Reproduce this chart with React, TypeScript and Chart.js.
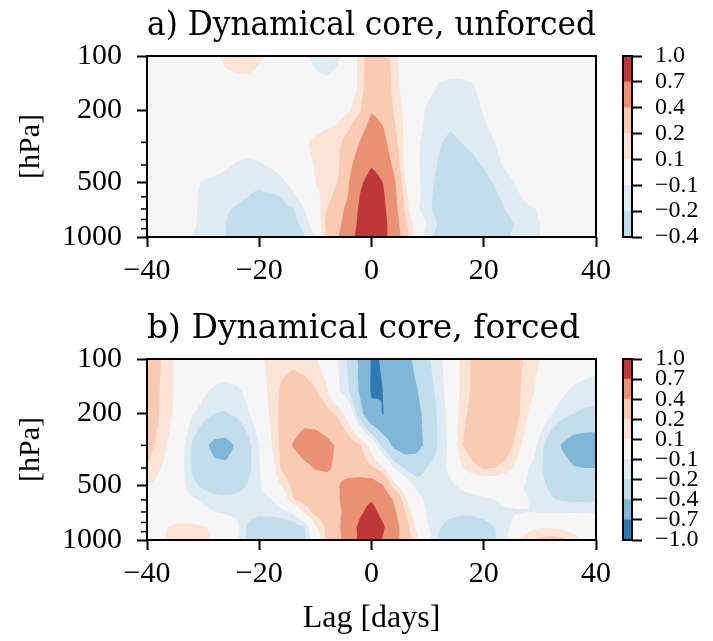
import React, { useEffect, useRef } from 'react';
import { Chart, registerables } from 'chart.js';

Chart.register(...registerables);

// ---------------- data ----------------
const LAGS = [-40, -38, -36, -34, -32, -30, -28, -26, -24, -22, -20, -18, -16, -14, -12, -10, -8, -6, -4, -2, 0,
  2, 4, 6, 8, 10, 12, 14, 16, 18, 20, 22, 24, 26, 28, 30, 32, 34, 36, 38, 40];
const PRESSURES = [100, 150, 200, 300, 400, 500, 600, 700, 850, 1000];

// panel a: rows = PRESSURES, columns = LAGS
const UNFORCED = [
  [0, 0, 0, 0, 0, 0.02, 0.07, 0.13, 0.15, 0.15, 0.12, 0.07, 0.02, 0, -0.08, -0.13, -0.15, -0.12, 0, 0.14, 0.3, 0.3, 0.14, 0.03, 0, -0.02, -0.04, -0.05, -0.05, -0.04, -0.02, 0, 0, 0, 0, 0, 0, 0, 0, 0, 0],
  [0, 0, 0, 0, 0, 0.01, 0.03, 0.05, 0.06, 0.06, 0.05, 0.03, 0.01, 0, -0.03, -0.06, -0.07, -0.05, 0, 0.14, 0.33, 0.32, 0.16, 0.04, -0.03, -0.07, -0.11, -0.12, -0.12, -0.11, -0.07, -0.03, -0.01, 0, 0, 0, 0, 0, 0, 0, 0],
  [0, 0, 0, 0, 0, 0, 0, 0, 0, 0, 0, 0, 0, 0, 0, 0, 0.03, 0.05, 0.09, 0.19, 0.38, 0.33, 0.19, 0.07, -0.04, -0.12, -0.15, -0.16, -0.16, -0.14, -0.09, -0.04, -0.01, 0, 0, 0, 0, 0, 0, 0, 0],
  [0, 0, 0, 0, 0, -0.01, -0.02, -0.03, -0.05, -0.06, -0.05, -0.03, -0.01, 0, 0.08, 0.13, 0.15, 0.17, 0.27, 0.41, 0.6, 0.48, 0.26, 0.07, -0.08, -0.14, -0.19, -0.22, -0.2, -0.17, -0.14, -0.1, -0.05, 0, 0, 0, 0, 0, 0, 0, 0],
  [0, 0, 0, 0, -0.01, -0.03, -0.05, -0.08, -0.11, -0.12, -0.11, -0.09, -0.06, -0.02, 0.06, 0.11, 0.14, 0.18, 0.35, 0.52, 0.67, 0.58, 0.35, 0.06, -0.08, -0.15, -0.21, -0.25, -0.25, -0.23, -0.19, -0.13, -0.08, -0.03, 0, 0, 0, 0, 0, 0, 0],
  [0, 0, 0, -0.02, -0.07, -0.11, -0.13, -0.15, -0.17, -0.18, -0.18, -0.15, -0.12, -0.06, 0.02, 0.1, 0.15, 0.2, 0.4, 0.65, 0.85, 0.7, 0.45, 0.1, -0.07, -0.16, -0.23, -0.27, -0.28, -0.27, -0.24, -0.19, -0.14, -0.08, -0.03, 0, 0, 0, 0, 0, 0],
  [0, 0, 0, -0.02, -0.08, -0.12, -0.14, -0.16, -0.18, -0.2, -0.22, -0.22, -0.2, -0.13, -0.04, 0.06, 0.15, 0.25, 0.42, 0.72, 0.9, 0.75, 0.48, 0.15, -0.06, -0.17, -0.24, -0.28, -0.3, -0.29, -0.26, -0.22, -0.17, -0.12, -0.06, -0.02, 0, 0, 0, 0, 0],
  [0, 0, 0, -0.02, -0.08, -0.12, -0.16, -0.19, -0.21, -0.24, -0.25, -0.25, -0.23, -0.21, -0.1, 0.02, 0.2, 0.3, 0.48, 0.76, 0.93, 0.78, 0.5, 0.18, -0.08, -0.18, -0.24, -0.27, -0.29, -0.3, -0.29, -0.25, -0.19, -0.15, -0.12, -0.09, -0.02, 0, 0, 0, 0],
  [0, 0, 0, -0.03, -0.08, -0.13, -0.17, -0.2, -0.24, -0.27, -0.28, -0.28, -0.26, -0.24, -0.17, -0.02, 0.24, 0.34, 0.54, 0.78, 0.95, 0.8, 0.55, 0.23, 0.05, -0.13, -0.21, -0.26, -0.28, -0.29, -0.29, -0.27, -0.24, -0.18, -0.13, -0.1, -0.04, 0, 0, 0, 0],
  [0, 0, -0.02, -0.06, -0.1, -0.14, -0.17, -0.2, -0.24, -0.28, -0.3, -0.3, -0.28, -0.25, -0.21, -0.1, 0.23, 0.38, 0.61, 0.8, 0.95, 0.79, 0.57, 0.29, 0.03, -0.17, -0.24, -0.27, -0.29, -0.3, -0.29, -0.27, -0.22, -0.16, -0.12, -0.1, -0.04, -0.01, 0, 0, 0],
];

// panel b: rows = PRESSURES, columns = LAGS
const FORCED = [
  [0.27, 0.22, 0.13, 0.05, 0, 0, 0, 0, 0, 0.02, 0.08, 0.13, 0.16, 0.17, 0.15, 0.11, 0.02, -0.1, -0.23, -0.45, -0.72, -0.69, -0.58, -0.5, -0.33, -0.22, -0.12, -0.05, 0.13, 0.22, 0.25, 0.27, 0.27, 0.23, 0.17, 0.1, 0.02, 0, 0, -0.03, -0.05],
  [0.26, 0.21, 0.13, 0.05, 0, -0.08, -0.12, -0.14, -0.12, -0.07, 0.03, 0.13, 0.22, 0.26, 0.25, 0.21, 0.12, -0.08, -0.2, -0.44, -0.73, -0.7, -0.6, -0.52, -0.42, -0.27, -0.15, -0.04, 0.13, 0.22, 0.27, 0.28, 0.27, 0.22, 0.15, 0.05, -0.03, -0.08, -0.12, -0.14, -0.15],
  [0.26, 0.21, 0.12, 0.04, -0.09, -0.14, -0.2, -0.21, -0.17, -0.11, -0.02, 0.12, 0.24, 0.3, 0.33, 0.3, 0.24, 0.18, 0.02, -0.32, -0.64, -0.705, -0.64, -0.56, -0.46, -0.33, -0.17, -0.06, 0.16, 0.24, 0.3, 0.32, 0.29, 0.23, 0.09, 0, -0.09, -0.15, -0.2, -0.22, -0.23],
  [0.24, 0.18, 0.08, -0.04, -0.21, -0.35, -0.45, -0.46, -0.38, -0.24, -0.1, 0.08, 0.24, 0.41, 0.48, 0.5, 0.46, 0.37, 0.28, 0.22, 0.05, -0.24, -0.45, -0.52, -0.47, -0.35, -0.18, -0.07, 0.19, 0.27, 0.32, 0.32, 0.28, 0.15, 0.02, -0.15, -0.3, -0.42, -0.5, -0.52, -0.52],
  [0.2, 0.12, 0.04, -0.05, -0.21, -0.3, -0.36, -0.37, -0.33, -0.24, -0.11, 0.02, 0.22, 0.3, 0.36, 0.41, 0.42, 0.37, 0.32, 0.27, 0.22, 0.13, -0.1, -0.22, -0.28, -0.19, -0.13, -0.08, 0.08, 0.17, 0.21, 0.2, 0.15, 0.06, -0.1, -0.18, -0.27, -0.33, -0.39, -0.4, -0.4],
  [0.11, 0.06, 0.02, -0.05, -0.17, -0.23, -0.27, -0.28, -0.25, -0.19, -0.12, -0.02, 0.11, 0.23, 0.28, 0.3, 0.34, 0.39, 0.46, 0.52, 0.53, 0.41, 0.15, 0, -0.13, -0.15, -0.14, -0.12, -0.08, -0.04, -0.02, -0.02, -0.04, -0.08, -0.12, -0.17, -0.22, -0.26, -0.28, -0.28, -0.27],
  [0.03, 0.02, 0, -0.03, -0.08, -0.12, -0.15, -0.16, -0.16, -0.15, -0.14, -0.11, -0.02, 0.19, 0.24, 0.27, 0.31, 0.38, 0.5, 0.63, 0.68, 0.58, 0.38, 0.13, -0.05, -0.13, -0.15, -0.16, -0.15, -0.14, -0.12, -0.1, -0.07, -0.07, -0.1, -0.15, -0.19, -0.21, -0.22, -0.22, -0.21],
  [0, 0, 0, -0.01, -0.03, -0.07, -0.1, -0.12, -0.14, -0.16, -0.17, -0.16, -0.13, -0.08, 0.13, 0.24, 0.3, 0.36, 0.48, 0.66, 0.79, 0.62, 0.45, 0.2, 0.02, -0.12, -0.15, -0.17, -0.18, -0.18, -0.16, -0.14, -0.12, -0.11, -0.1, -0.11, -0.11, -0.11, -0.11, -0.11, -0.11],
  [0, 0.04, 0.11, 0.14, 0.14, 0.12, 0.06, 0, -0.06, -0.22, -0.28, -0.3, -0.3, -0.27, -0.22, 0.08, 0.23, 0.36, 0.55, 0.77, 0.9, 0.74, 0.52, 0.27, 0.08, -0.09, -0.19, -0.24, -0.26, -0.26, -0.24, -0.2, -0.13, -0.04, 0.06, 0.09, 0.09, 0.07, 0.03, 0, -0.02],
  [0, 0.06, 0.13, 0.16, 0.17, 0.15, 0.07, 0, -0.07, -0.24, -0.3, -0.36, -0.41, -0.32, -0.24, -0.02, 0.22, 0.33, 0.55, 0.76, 0.8, 0.68, 0.5, 0.3, 0.14, -0.05, -0.21, -0.26, -0.28, -0.27, -0.24, -0.21, -0.12, 0.11, 0.18, 0.23, 0.25, 0.23, 0.17, 0.06, 0],
];

const LEVELS_A = [-0.4, -0.2, -0.1, 0.1, 0.2, 0.4, 0.7, 1.0];
const LEVELS_B = [-1.0, -0.7, -0.4, -0.2, -0.1, 0.1, 0.2, 0.4, 0.7, 1.0];
const BAND_COLORS = ['#2f79b5', '#80b6d6', '#c2ddec', '#deebf3', '#f6f6f6', '#fbe3d6', '#f9cbb3', '#ea9173', '#c0373a'];
const X_TICKS = [-40, -20, 0, 20, 40];
const Y_MAJOR = [100, 200, 500, 1000];
const Y_MINOR = [300, 400, 600, 700, 800, 900];

// ---------------- helpers ----------------
const LOG_P = PRESSURES.map((p) => Math.log10(p));
const SERIF = 'Liberation Serif';
const TITLE_FONT = 'DejaVu Serif';

const minus = (s: string) => s.replace('-', '\u2212');
const fmtTick = (v: number) => minus(String(v));
const fmtLevel = (v: number) => minus(v.toFixed(1));

function locate(arr: number[], v: number): [number, number] {
  const n = arr.length;
  if (v <= arr[0]) return [0, 0];
  if (v >= arr[n - 1]) return [n - 2, 1];
  let i = 0;
  while (v > arr[i + 1]) i++;
  return [i, (v - arr[i]) / (arr[i + 1] - arr[i])];
}

function sampleField(field: number[][], lag: number, p: number) {
  const [i, tx] = locate(LAGS, lag);
  const [j, ty] = locate(LOG_P, Math.log10(p));
  const a = field[j][i], b = field[j][i + 1], c = field[j + 1][i], d = field[j + 1][i + 1];
  return (a * (1 - tx) + b * tx) * (1 - ty) + (c * (1 - tx) + d * tx) * ty;
}

function hexToRgb(h: string) {
  const n = parseInt(h.slice(1), 16);
  return [(n >> 16) & 255, (n >> 8) & 255, n & 255];
}

function contourPlugin(field: number[][], levels: number[], colors: string[]) {
  const rgb = colors.map(hexToRgb);
  const band = (v: number) => {
    let k = 0;
    while (k < colors.length - 1 && v >= levels[k + 1]) k++;
    return k;
  };
  return {
    id: 'contourFill',
    beforeDatasetsDraw(chart: any) {
      const { ctx, chartArea } = chart;
      const { left, top, right, bottom } = chartArea;
      const xs = chart.scales.x;
      const ys = chart.scales.y;
      const w = Math.round(right - left);
      const h = Math.round(bottom - top);
      const S = 3;
      const lagSub: number[] = [];
      for (let k = 0; k < w * S; k++) lagSub.push(xs.getValueForPixel(left + (k + 0.5) / S));
      const pSub: number[] = [];
      for (let k = 0; k < h * S; k++) pSub.push(ys.getValueForPixel(top + (k + 0.5) / S));
      const off = document.createElement('canvas');
      off.width = w;
      off.height = h;
      const octx = off.getContext('2d')!;
      const img = octx.createImageData(w, h);
      for (let py = 0; py < h; py++) {
        for (let px = 0; px < w; px++) {
          let r = 0, g = 0, b = 0;
          for (let sy = 0; sy < S; sy++) {
            const p = pSub[py * S + sy];
            for (let sx = 0; sx < S; sx++) {
              const col = rgb[band(sampleField(field, lagSub[px * S + sx], p))];
              r += col[0]; g += col[1]; b += col[2];
            }
          }
          const o = (py * w + px) * 4;
          img.data[o] = r / (S * S);
          img.data[o + 1] = g / (S * S);
          img.data[o + 2] = b / (S * S);
          img.data[o + 3] = 255;
        }
      }
      octx.putImageData(img, 0, 0);
      ctx.drawImage(off, left, top);
    },
  };
}

const framePlugin = {
  id: 'axesFrame',
  afterDatasetsDraw(chart: any) {
    const { ctx, chartArea } = chart;
    const { left, top, right, bottom } = chartArea;
    ctx.save();
    ctx.strokeStyle = '#000';
    ctx.lineWidth = 2;
    ctx.strokeRect(left, top, right - left, bottom - top);
    ctx.restore();
  },
};

const minorTickPlugin = {
  id: 'minorTicks',
  afterDatasetsDraw(chart: any) {
    const { ctx, chartArea } = chart;
    const ys = chart.scales.y;
    ctx.save();
    ctx.strokeStyle = '#000';
    ctx.lineWidth = 1.5;
    for (const v of Y_MINOR) {
      const y = ys.getPixelForValue(v);
      ctx.beginPath();
      ctx.moveTo(chartArea.left - 6, y);
      ctx.lineTo(chartArea.left, y);
      ctx.stroke();
    }
    ctx.restore();
  },
};

interface PanelOpts {
  title: string;
  field: number[][];
  levels: number[];
  colors: string[];
  titleCenter: number;
  areaTop: number;
  xAxisHeight: number;
  xTitle: boolean;
}

function panelConfig(o: PanelOpts): any {
  const TS = 33;
  const LH = TS * 1.2;
  return {
    type: 'scatter',
    data: { datasets: [{ data: [], pointRadius: 0 }] },
    options: {
      animation: false,
      responsive: false,
      devicePixelRatio: 1,
      events: [],
      layout: { padding: { left: 0, right: 44, top: 0, bottom: 0 } },
      plugins: {
        legend: { display: false },
        tooltip: { enabled: false },
        title: {
          display: true,
          text: o.title,
          align: 'start',
          fullSize: false,
          color: '#000',
          font: { family: TITLE_FONT, size: TS, weight: 'normal', lineHeight: 1.2 },
          padding: { top: o.titleCenter - LH / 2, bottom: o.areaTop - o.titleCenter - LH / 2 },
        },
      },
      scales: {
        x: {
          type: 'linear',
          position: 'bottom',
          min: -40,
          max: 40,
          afterBuildTicks: (s: any) => { s.ticks = X_TICKS.map((v) => ({ value: v })); },
          afterFit: (s: any) => { s.height = o.xAxisHeight; },
          ticks: {
            autoSkip: false,
            maxRotation: 0,
            padding: 6,
            color: '#000',
            font: { family: SERIF, size: 30 },
            callback: (v: any) => fmtTick(Number(v)),
          },
          grid: { drawOnChartArea: false, drawTicks: true, tickLength: 10, tickWidth: 2, tickColor: '#000' },
          border: { display: false },
          title: {
            display: o.xTitle,
            text: 'Lag [days]',
            color: '#000',
            font: { family: SERIF, size: 32 },
            padding: { top: 0, bottom: 3 },
          },
        },
        y: {
          type: 'logarithmic',
          position: 'left',
          min: 100,
          max: 1000,
          reverse: true,
          afterBuildTicks: (s: any) => { s.ticks = Y_MAJOR.map((v) => ({ value: v })); },
          afterFit: (s: any) => { s.width = 147; },
          ticks: {
            autoSkip: false,
            padding: 15,
            color: '#000',
            font: { family: SERIF, size: 30 },
            callback: (v: any) => String(v),
          },
          grid: { drawOnChartArea: false, drawTicks: true, tickLength: 10, tickWidth: 2, tickColor: '#000' },
          border: { display: false },
          title: {
            display: true,
            text: '[hPa]',
            color: '#000',
            font: { family: SERIF, size: 30 },
            padding: { top: 13, bottom: 0 },
          },
        },
      },
    },
    plugins: [contourPlugin(o.field, o.levels, o.colors), framePlugin, minorTickPlugin],
  };
}

function colorbarConfig(levels: number[], colors: string[], top: number, bottom: number): any {
  return {
    type: 'bar',
    data: {
      labels: [''],
      datasets: colors.map((c) => ({
        data: [1],
        backgroundColor: c,
        borderWidth: 0,
        barPercentage: 1,
        categoryPercentage: 1,
      })),
    },
    options: {
      animation: false,
      responsive: false,
      devicePixelRatio: 1,
      events: [],
      layout: { padding: { left: 23, right: 0, top, bottom } },
      plugins: { legend: { display: false }, tooltip: { enabled: false }, title: { display: false } },
      scales: {
        x: { display: false, stacked: true },
        y: {
          stacked: true,
          position: 'right',
          min: 0,
          max: colors.length,
          afterBuildTicks: (s: any) => { s.ticks = levels.map((_, i) => ({ value: i })); },
          afterFit: (s: any) => { s.width = 81; },
          ticks: {
            autoSkip: false,
            padding: 13,
            color: '#000',
            font: { family: SERIF, size: 24 },
            callback: (_v: any, i: number) => fmtLevel(levels[i]),
          },
          grid: { drawOnChartArea: false, drawTicks: true, tickLength: 10, tickWidth: 2, tickColor: '#000' },
          border: { display: false },
        },
      },
    },
    plugins: [framePlugin],
  };
}

export default function App() {
  const aRef = useRef<HTMLCanvasElement>(null);
  const cbaRef = useRef<HTMLCanvasElement>(null);
  const bRef = useRef<HTMLCanvasElement>(null);
  const cbbRef = useRef<HTMLCanvasElement>(null);

  useEffect(() => {
    const charts = [
      new Chart(aRef.current!, panelConfig({
        title: 'a) Dynamical core, unforced',
        field: UNFORCED,
        levels: LEVELS_A,
        colors: BAND_COLORS.slice(2),
        titleCenter: 26,
        areaTop: 56,
        xAxisHeight: 63,
        xTitle: false,
      })),
      new Chart(cbaRef.current!, colorbarConfig(LEVELS_A, BAND_COLORS.slice(2), 56, 63)),
      new Chart(bRef.current!, panelConfig({
        title: 'b) Dynamical core, forced',
        field: FORCED,
        levels: LEVELS_B,
        colors: BAND_COLORS,
        titleCenter: 29,
        areaTop: 59,
        xAxisHeight: 101,
        xTitle: true,
      })),
      new Chart(cbbRef.current!, colorbarConfig(LEVELS_B, BAND_COLORS, 59, 101)),
    ];
    return () => charts.forEach((c) => c.destroy());
  }, []);

  const abs = (left: number, top: number): React.CSSProperties => ({ position: 'absolute', left, top });

  return (
    <div style={{ position: 'absolute', left: 0, top: 0, width: 713, height: 641, background: '#fff', overflow: 'hidden' }}>
      <canvas ref={aRef} width={640} height={300} style={abs(0, 0)} />
      <canvas ref={bRef} width={640} height={341} style={abs(0, 300)} />
      <canvas ref={cbaRef} width={113} height={300} style={abs(600, 0)} />
      <canvas ref={cbbRef} width={113} height={341} style={abs(600, 300)} />
    </div>
  );
}
